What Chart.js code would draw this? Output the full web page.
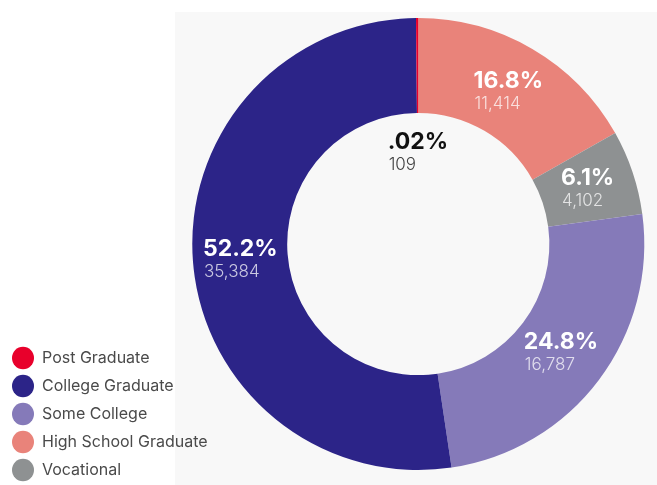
<!DOCTYPE html>
<html>
<head>
<meta charset="utf-8">
<script src="https://cdn.jsdelivr.net/npm/chart.js@4.4.1/dist/chart.umd.min.js"></script>
<style>
  html, body { margin: 0; padding: 0; background: #fff; }
  #wrap { position: relative; width: 657px; height: 485px; }
  #panel { position: absolute; left: 175px; top: 12px; right: 0; bottom: 0; background: #f8f8f8; }
  canvas { position: absolute; left: 0; top: 0; }
</style>
</head>
<body>
<div id="wrap">
  <div id="panel"></div>
  <canvas id="chart" width="657" height="485"></canvas>
</div>
<script>
// legend order
const categories = ["Post Graduate", "College Graduate", "Some College", "High School Graduate", "Vocational"];
const values = [109, 35384, 16787, 11414, 4102];
const percentLabels = [".02%", "52.2%", "24.8%", "16.8%", "6.1%"];
const countLabels = ["109", "35,384", "16,787", "11,414", "4,102"];
const colors = ["#e8002b", "#2c2488", "#857ab9", "#e9837a", "#8e9192"];
// slices go clockwise from 12 o'clock in this order
const drawOrder = ["High School Graduate", "Vocational", "Some College", "College Graduate", "Post Graduate"];

const idx = drawOrder.map(name => categories.indexOf(name));

// percent + count written on each slice
const sliceLabels = {
  id: "sliceLabels",
  afterDatasetsDraw(chart) {
    const ctx = chart.ctx;
    const meta = chart.getDatasetMeta(0);
    meta.data.forEach((arc, i) => {
      const k = idx[i];
      const p = arc.getProps(["startAngle", "endAngle", "innerRadius", "outerRadius", "x", "y"], true);
      const mid = (p.startAngle + p.endAngle) / 2;
      const small = (p.endAngle - p.startAngle) < 0.05;
      // tiny slice gets its label in the hole
      const r = small ? p.innerRadius * 0.71 : (p.innerRadius + p.outerRadius) / 2;
      const cx = p.x + Math.cos(mid) * r;
      const cy = p.y + Math.sin(mid) * r;

      ctx.save();
      ctx.textAlign = "left";
      ctx.textBaseline = "alphabetic";
      ctx.font = "700 23px Inter";
      const w1 = ctx.measureText(percentLabels[k]).width;
      ctx.font = "300 17px Inter";
      const w2 = ctx.measureText(countLabels[k]).width;
      const left = cx - Math.max(w1, w2) / 2;

      ctx.font = "700 23px Inter";
      ctx.fillStyle = small ? "#111" : "#fff";
      ctx.fillText(percentLabels[k], left, cy - 2);
      ctx.font = "300 17px Inter";
      ctx.fillStyle = small ? "#444" : "rgba(255,255,255,0.75)";
      ctx.fillText(countLabels[k], left + 1, cy + 19);
      ctx.restore();
    });
  }
};

new Chart(document.getElementById("chart"), {
  type: "doughnut",
  data: {
    labels: idx.map(k => categories[k]),
    datasets: [{
      data: idx.map(k => values[k]),
      backgroundColor: idx.map(k => colors[k]),
      borderWidth: 0,
      radius: 226,
      cutout: "58%"
    }]
  },
  options: {
    responsive: false,
    animation: false,
    devicePixelRatio: 1,
    layout: { padding: { top: 3, bottom: -5, left: 0, right: 38 } },
    plugins: {
      tooltip: { enabled: false },
      legend: {
        position: "left",
        align: "end",
        labels: {
          usePointStyle: true,
          pointStyle: "circle",
          pointStyleWidth: 22,
          boxHeight: 16,
          padding: 12,
          color: "#4a4a4a",
          font: { family: "Inter", size: 16 },
          sort: (a, b) => categories.indexOf(a.text) - categories.indexOf(b.text)
        }
      }
    }
  },
  plugins: [sliceLabels]
});
</script>
</body>
</html>
